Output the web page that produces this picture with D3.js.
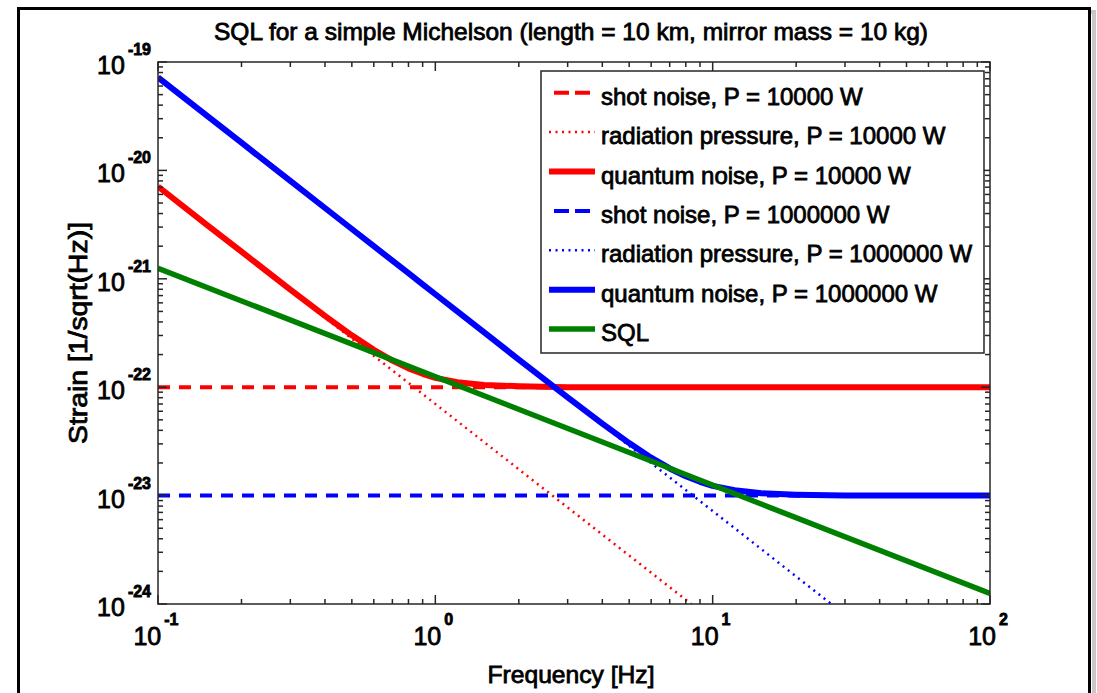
<!DOCTYPE html>
<html>
<head>
<meta charset="utf-8">
<script src="https://cdn.jsdelivr.net/npm/d3@7"></script>
<style>
  html, body { margin: 0; padding: 0; background: #ffffff; }
  svg { display: block; }
  text { font-family: "Liberation Sans", Arial, Helvetica, sans-serif; fill: #000; }
</style>
</head>
<body>
<svg id="chart" width="1097" height="693"></svg>
<script>
// ---- data -------------------------------------------------------------
const shotFreq = [0.1, 100];
const shotNoise1e4 = [1e-22, 1e-22];
const shotNoise1e6 = [1e-23, 1e-23];

const radFreq1e4 = [0.1, 1, 8.37];
const radPressure1e4 = [7e-21, 7e-23, 1e-24];
const radFreq1e6 = [0.1, 1, 10, 26.8];
const radPressure1e6 = [7.2e-20, 7.2e-22, 7.2e-24, 1e-24];

const quantumFreq = [0.1, 0.15, 0.2, 0.3, 0.4, 0.5, 0.6, 0.7, 0.8, 0.9, 1, 1.2, 1.5, 2, 3, 4, 5, 6, 7, 8, 9, 10, 12, 15, 20, 30, 50, 100];
const quantum1e4 = [7.1e-21, 3.15e-21, 1.78e-21, 7.95e-22, 4.55e-22, 3.01e-22, 2.21e-22, 1.76e-22, 1.49e-22, 1.33e-22, 1.22e-22, 1.11e-22, 1.05e-22, 1.02e-22, 1.0e-22, 1.0e-22, 1.0e-22, 1.0e-22, 1.0e-22, 1.0e-22, 1.0e-22, 1.0e-22, 1.0e-22, 1.0e-22, 1.0e-22, 1.0e-22, 1.0e-22, 1.0e-22];
const quantum1e6 = [7.2e-20, 3.2e-20, 1.8e-20, 8.0e-21, 4.5e-21, 2.88e-21, 2.0e-21, 1.47e-21, 1.13e-21, 8.9e-22, 7.2e-22, 5.0e-22, 3.2e-22, 1.8e-22, 8.06e-23, 4.61e-23, 3.05e-23, 2.24e-23, 1.78e-23, 1.51e-23, 1.34e-23, 1.23e-23, 1.12e-23, 1.05e-23, 1.02e-23, 1.0e-23, 1.0e-23, 1.0e-23];

const sqlFreq = [0.1, 100];
const sqlStrain = [1.25e-21, 1.25e-24];

const xTickExponents = [-1, 0, 1, 2];
const yTickExponents = [-19, -20, -21, -22, -23, -24];

const legendLabels = [
  "shot noise, P = 10000 W",
  "radiation pressure, P = 10000 W",
  "quantum noise, P = 10000 W",
  "shot noise, P = 1000000 W",
  "radiation pressure, P = 1000000 W",
  "quantum noise, P = 1000000 W",
  "SQL"
];

const titleText = "SQL for a simple Michelson (length = 10 km, mirror mass = 10 kg)";
const xLabel = "Frequency [Hz]";
const yLabel = "Strain [1/sqrt(Hz)]";

// ---- layout -----------------------------------------------------------
const svg = d3.select("#chart");
const plot = { left: 158, right: 990, top: 62, bottom: 604 };

const x = d3.scaleLog().domain([0.1, 100]).range([plot.left, plot.right]);
const y = d3.scaleLog().domain([1e-24, 1e-19]).range([plot.bottom, plot.top]);

const RED = "#ff0000", BLUE = "#0000ff", GREEN = "#008000";
const styles = {
  dashed: { width: 4, dash: "12,9" },
  dotted: { width: 2.5, dash: "2,4.5" },
  solid:  { width: 6, dash: null }
};

const series = [
  { f: shotFreq, v: shotNoise1e4, color: RED, kind: "dashed" },
  { f: radFreq1e4, v: radPressure1e4, color: RED, kind: "dotted" },
  { f: quantumFreq, v: quantum1e4, color: RED, kind: "solid" },
  { f: shotFreq, v: shotNoise1e6, color: BLUE, kind: "dashed" },
  { f: radFreq1e6, v: radPressure1e6, color: BLUE, kind: "dotted" },
  { f: quantumFreq, v: quantum1e6, color: BLUE, kind: "solid" },
  { f: sqlFreq, v: sqlStrain, color: GREEN, kind: "solid", width: 5.5 }
];

// figure frame with a soft drop shadow
svg.append("rect").attr("x", 22).attr("y", 12).attr("width", 1072).attr("height", 700)
  .attr("fill", "none").attr("stroke", "#c8c8c8").attr("stroke-width", 4);
svg.append("rect").attr("x", 18.5).attr("y", 8.5).attr("width", 1071).attr("height", 700)
  .attr("fill", "#ffffff").attr("stroke", "#000").attr("stroke-width", 3);

// clip region for the curves
svg.append("defs").append("clipPath").attr("id", "plotClip")
  .append("rect").attr("x", plot.left).attr("y", plot.top)
  .attr("width", plot.right - plot.left).attr("height", plot.bottom - plot.top);

// ---- curves -----------------------------------------------------------
const line = d3.line().x(d => x(d[0])).y(d => y(d[1]));
const curves = svg.append("g").attr("clip-path", "url(#plotClip)");
series.forEach(s => {
  const st = styles[s.kind];
  curves.append("path")
    .datum(s.f.map((f, i) => [f, s.v[i]]))
    .attr("d", line)
    .attr("fill", "none")
    .attr("stroke", s.color)
    .attr("stroke-width", s.width || st.width)
    .attr("stroke-dasharray", st.dash)
    .attr("stroke-linejoin", "round");
});

// ---- axes (box with inward ticks on all four sides) --------------------
const axisColor = "#262626";
const majorLen = 9, minorLen = 5;
const axes = svg.append("g").attr("stroke", axisColor).attr("stroke-width", 1.5);

function minorValues(lo, hi) {
  const out = [];
  for (let e = lo; e < hi; e++) for (let m = 2; m <= 9; m++) out.push(m * Math.pow(10, e));
  return out;
}

const xMajor = xTickExponents.map(e => Math.pow(10, e));
const xMinor = minorValues(-1, 2);
const yMajor = yTickExponents.map(e => Math.pow(10, e));
const yMinor = minorValues(-24, -19);

function xTicks(vals, len) {
  vals.forEach(v => {
    const px = x(v);
    axes.append("line").attr("x1", px).attr("x2", px).attr("y1", plot.bottom).attr("y2", plot.bottom - len);
    axes.append("line").attr("x1", px).attr("x2", px).attr("y1", plot.top).attr("y2", plot.top + len);
  });
}
function yTicks(vals, len) {
  vals.forEach(v => {
    const py = y(v);
    axes.append("line").attr("y1", py).attr("y2", py).attr("x1", plot.left).attr("x2", plot.left + len);
    axes.append("line").attr("y1", py).attr("y2", py).attr("x1", plot.right).attr("x2", plot.right - len);
  });
}
xTicks(xMajor, majorLen); xTicks(xMinor, minorLen);
yTicks(yMajor, majorLen); yTicks(yMinor, minorLen);

axes.append("rect").attr("x", plot.left).attr("y", plot.top)
  .attr("width", plot.right - plot.left).attr("height", plot.bottom - plot.top)
  .attr("fill", "none");

// text helper: slightly heavier strokes for the screen-rendered look
function heavy(sel, w) {
  return sel.attr("stroke", "#000").attr("stroke-width", w).attr("paint-order", "stroke");
}

// tick labels as 10 with a superscript exponent
const xLab = svg.append("g");
xTickExponents.forEach(e => {
  const t = heavy(xLab.append("text")
    .attr("x", x(Math.pow(10, e)) - 2).attr("y", 645)
    .attr("text-anchor", "middle").attr("font-size", 25), 0.8);
  t.append("tspan").text("10");
  t.append("tspan").attr("dx", 3).attr("dy", -20).attr("font-size", 16).attr("font-weight", "bold").text(e);
});
const yLab = svg.append("g");
yTickExponents.forEach(e => {
  const t = heavy(yLab.append("text")
    .attr("x", 151).attr("y", y(Math.pow(10, e)) + 12)
    .attr("text-anchor", "end").attr("font-size", 25), 0.8);
  t.append("tspan").text("10");
  t.append("tspan").attr("dx", 3).attr("dy", -19).attr("font-size", 16).attr("font-weight", "bold").text(e);
});

// title and axis labels
heavy(svg.append("text").attr("x", 571).attr("y", 40).attr("text-anchor", "middle")
  .attr("font-size", 24).attr("textLength", 714).attr("lengthAdjust", "spacingAndGlyphs")
  .text(titleText), 0.8);
heavy(svg.append("text").attr("x", 571).attr("y", 683).attr("text-anchor", "middle")
  .attr("font-size", 24).attr("textLength", 167).attr("lengthAdjust", "spacingAndGlyphs")
  .text(xLabel), 0.8);
heavy(svg.append("text").attr("transform", "translate(87,333) rotate(-90)").attr("text-anchor", "middle")
  .attr("font-size", 25).attr("textLength", 222).attr("lengthAdjust", "spacingAndGlyphs")
  .text(yLabel), 0.8);

// ---- legend -----------------------------------------------------------
const legend = svg.append("g");
legend.append("rect").attr("x", 541).attr("y", 71).attr("width", 443).attr("height", 282)
  .attr("fill", "#fff").attr("stroke", axisColor).attr("stroke-width", 1.5);
series.forEach((s, i) => {
  const cy = 92.7 + i * 39.4;
  const st = styles[s.kind];
  const x0 = s.kind === "dashed" ? 554 : 549;
  const x1 = s.kind === "dashed" ? 591 : 595;
  legend.append("line").attr("x1", x0).attr("x2", x1).attr("y1", cy).attr("y2", cy)
    .attr("stroke", s.color).attr("stroke-width", s.width || st.width)
    .attr("stroke-dasharray", s.kind === "dashed" ? "15,6" : st.dash);
  heavy(legend.append("text").attr("x", 601).attr("y", cy + 12)
    .attr("font-size", 24).text(legendLabels[i]), 0.8);
});
</script>
</body>
</html>
